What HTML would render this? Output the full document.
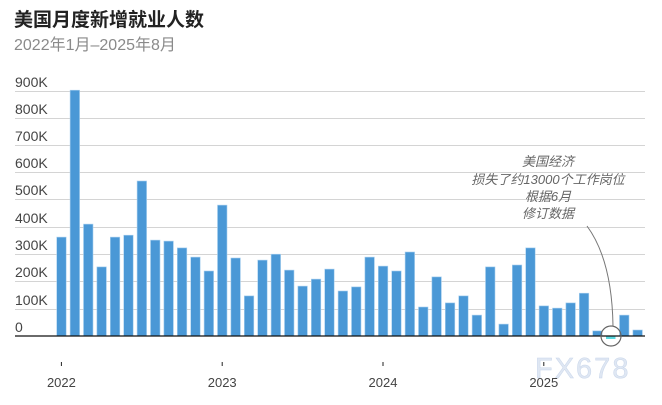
<!DOCTYPE html>
<html><head><meta charset="utf-8"><style>
body{margin:0;background:#fff;width:662px;height:400px;overflow:hidden}
</style></head><body>
<svg width="662" height="400" xmlns="http://www.w3.org/2000/svg" font-family="Liberation Sans, Noto Sans CJK SC, sans-serif">
<text x="14" y="26" font-size="19" font-weight="bold" fill="#222">美国月度新增就业人数</text>
<text x="14" y="50" font-size="16" fill="#8a8a8a">2022年1月–2025年8月</text>
<g stroke="#d4d4d4" stroke-width="1">
<line x1="15" x2="645" y1="91.5" y2="91.5"/><line x1="15" x2="645" y1="118.5" y2="118.5"/>
<line x1="15" x2="645" y1="145.5" y2="145.5"/><line x1="15" x2="645" y1="172.5" y2="172.5"/>
<line x1="15" x2="645" y1="199.5" y2="199.5"/><line x1="15" x2="645" y1="227.5" y2="227.5"/>
<line x1="15" x2="645" y1="254.5" y2="254.5"/><line x1="15" x2="645" y1="281.5" y2="281.5"/>
<line x1="15" x2="645" y1="309.5" y2="309.5"/>
</g>
<g font-size="14" fill="#444">
<text x="15" y="87">900K</text><text x="15" y="114">800K</text><text x="15" y="141">700K</text>
<text x="15" y="168">600K</text><text x="15" y="195">500K</text><text x="15" y="223">400K</text>
<text x="15" y="250">300K</text><text x="15" y="277">200K</text><text x="15" y="305">100K</text>
<text x="15" y="332">0</text>
</g>
<g fill="#4a98d6" stroke="#a9d0ef" stroke-width="0.6">
<rect x="56.7" y="237.1" width="9.5" height="98.9"/>
<rect x="70.1" y="90.2" width="9.5" height="245.8"/>
<rect x="83.5" y="224.1" width="9.5" height="111.9"/>
<rect x="96.9" y="266.9" width="9.5" height="69.1"/>
<rect x="110.3" y="237.1" width="9.5" height="98.9"/>
<rect x="123.7" y="235.2" width="9.5" height="100.8"/>
<rect x="137.1" y="181" width="9.5" height="155"/>
<rect x="150.5" y="240.1" width="9.5" height="95.9"/>
<rect x="163.9" y="241.1" width="9.5" height="94.9"/>
<rect x="177.3" y="247.9" width="9.5" height="88.1"/>
<rect x="190.7" y="257.1" width="9.5" height="78.9"/>
<rect x="204.1" y="271" width="9.5" height="65"/>
<rect x="217.5" y="205.1" width="9.5" height="130.9"/>
<rect x="230.9" y="258" width="9.5" height="78"/>
<rect x="244.3" y="295.9" width="9.5" height="40.1"/>
<rect x="257.7" y="260.1" width="9.5" height="75.9"/>
<rect x="271.1" y="254.2" width="9.5" height="81.8"/>
<rect x="284.5" y="270.1" width="9.5" height="65.9"/>
<rect x="297.9" y="286.1" width="9.5" height="49.9"/>
<rect x="311.3" y="279.1" width="9.5" height="56.9"/>
<rect x="324.7" y="269.1" width="9.5" height="66.9"/>
<rect x="338.1" y="291" width="9.5" height="45"/>
<rect x="351.5" y="286.9" width="9.5" height="49.1"/>
<rect x="364.9" y="257.1" width="9.5" height="78.9"/>
<rect x="378.3" y="266.1" width="9.5" height="69.9"/>
<rect x="391.7" y="271" width="9.5" height="65"/>
<rect x="405.1" y="252" width="9.5" height="84"/>
<rect x="418.5" y="307" width="9.5" height="29"/>
<rect x="431.9" y="276.9" width="9.5" height="59.1"/>
<rect x="445.3" y="302.9" width="9.5" height="33.1"/>
<rect x="458.7" y="295.9" width="9.5" height="40.1"/>
<rect x="472.1" y="315.1" width="9.5" height="20.9"/>
<rect x="485.5" y="266.9" width="9.5" height="69.1"/>
<rect x="498.9" y="324.1" width="9.5" height="11.9"/>
<rect x="512.3" y="265" width="9.5" height="71"/>
<rect x="525.7" y="247.9" width="9.5" height="88.1"/>
<rect x="539.1" y="305.9" width="9.5" height="30.1"/>
<rect x="552.5" y="308.1" width="9.5" height="27.9"/>
<rect x="565.9" y="302.9" width="9.5" height="33.1"/>
<rect x="579.3" y="293.2" width="9.5" height="42.8"/>
<rect x="592.7" y="330.9" width="9.5" height="5.1"/>
<rect x="619.5" y="315.1" width="9.5" height="20.9"/>
<rect x="632.9" y="330" width="9.5" height="6"/>
</g>
<rect x="606" y="336" width="9.5" height="3" fill="#5ad8e0"/>
<line x1="15" x2="645" y1="336" y2="336" stroke="#111" stroke-width="1.3"/>
<g stroke="#222" stroke-width="1"><line x1="61.4" x2="61.4" y1="362" y2="366"/><line x1="222.2" x2="222.2" y1="362" y2="366"/><line x1="383" x2="383" y1="362" y2="366"/><line x1="543.8" x2="543.8" y1="362" y2="366"/></g>
<text x="535" y="378" font-size="29" fill="#dfe7f3" stroke="#c9d6ea" stroke-width="0.5" letter-spacing="2">FX678</text>
<g font-size="13" fill="#444" text-anchor="middle">
<text x="61.4" y="387">2022</text><text x="222.2" y="387">2023</text><text x="383" y="387">2024</text><text x="543.8" y="387">2025</text>
</g>
<g font-size="13" fill="#666" font-style="italic" text-anchor="middle">
<text x="548" y="166">美国经济</text>
<text x="548" y="184">损失了约13000个工作岗位</text>
<text x="548" y="201">根据6月</text>
<text x="548" y="218">修订数据</text>
</g>
<path d="M587 226 Q612 260 613 326" fill="none" stroke="#777" stroke-width="1"/>
<circle cx="611" cy="336" r="10" fill="none" stroke="#666" stroke-width="1.2"/>
</svg>
</body></html>
